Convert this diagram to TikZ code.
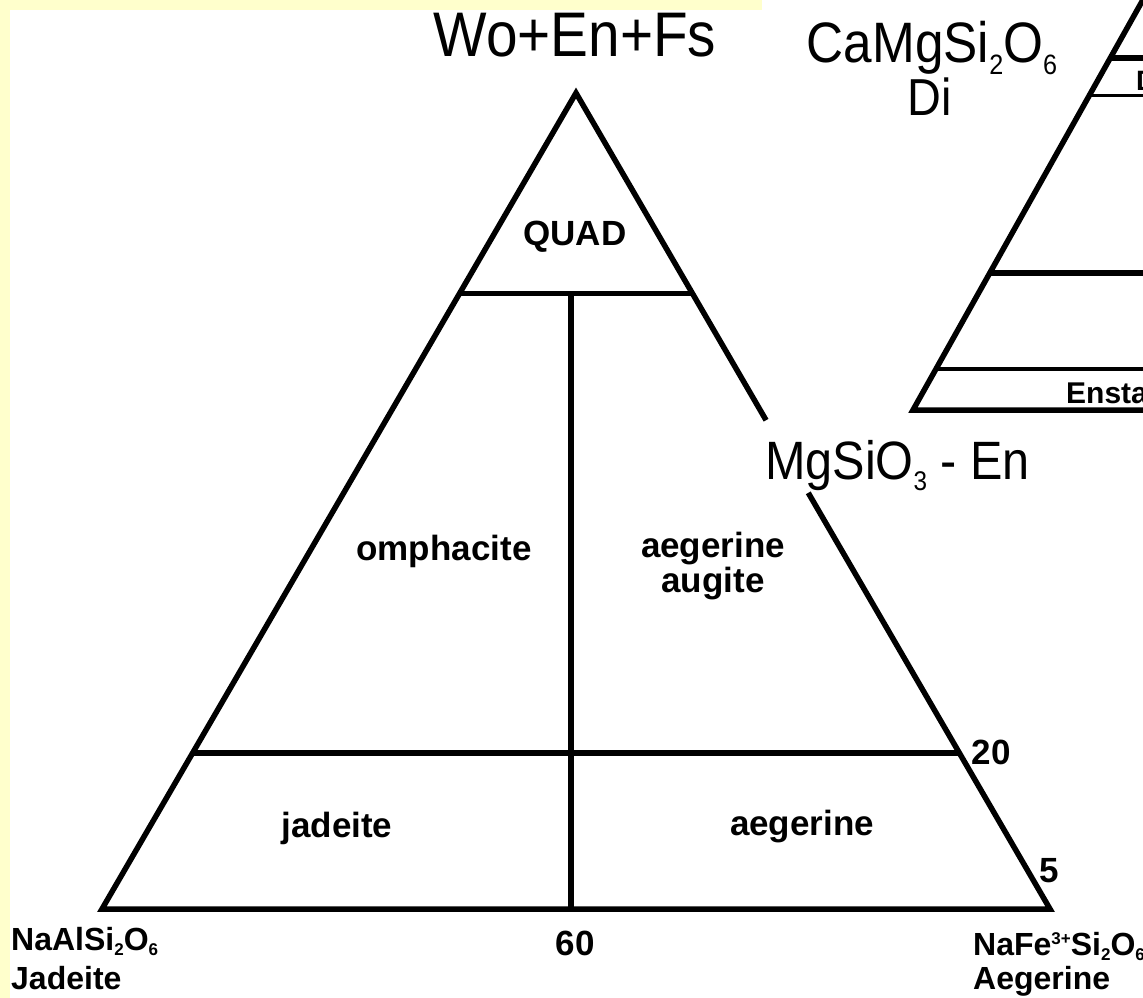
\documentclass[tikz,border=0pt]{standalone}
\usepackage{fontspec}
\setmainfont{Liberation Sans}
\newfontfamily\headfont[FakeStretch=0.9]{Liberation Sans}
\usetikzlibrary{calc}
\definecolor{paleyellow}{HTML}{FFFFCC}
% small index for the formulas: size, raise, text
\newcommand{\chemidx}[3]{\raisebox{#2}{\fontsize{#1}{#1}\selectfont #3}}
\tikzset{
  rim/.style={line width=5.5pt, line join=miter},
  head/.style={font=\headfont\fontsize{#1}{#1}\selectfont, inner sep=0pt, anchor=base},
  field/.style={font=\bfseries\fontsize{35}{35}\selectfont, inner sep=0pt, anchor=base},
  endlabel/.style={font=\bfseries\fontsize{32}{32}\selectfont, inner sep=0pt, anchor=base west},
}
\begin{document}
\begin{tikzpicture}[x=1pt,y=-1pt]
  \useasboundingbox (0,0) rectangle (1143,998);
  \clip (0,0) rectangle (1143,998);
  \fill[white] (0,0) rectangle (1143,998);
  \fill[paleyellow] (0,0) rectangle (762,10);
  \fill[paleyellow] (0,0) rectangle (10,998);

  % Wo+En+Fs -- Jd -- Ae
  \coordinate (wo) at (576,93);
  \coordinate (jd) at (102,909);
  \coordinate (ae) at (1050,909);
  \draw[rim] ($(wo)!0.401!(ae)$) -- (wo) -- (jd) -- (ae) -- ($(wo)!0.490!(ae)$);
  \draw[rim] ($(wo)!0.246!(jd)$) coordinate (q1) -- ($(wo)!0.246!(ae)$);
  \draw[rim] ($(wo)!0.809!(jd)$) -- ($(wo)!0.809!(ae)$);
  \coordinate (sixty) at (571,909);
  \draw[rim] (sixty |- q1) -- (sixty);

  \node[head=63] (title) at (575,57) {Wo+En+Fs};
  \foreach \px/\py/\txt/\nm in {575/245/QUAD/quad, 444/560/omphacite/omph, 713/557/aegerine/aegaug,
                                713/592/augite/aug, 337/837/jadeite/jad, 802/835/aegerine/aeg} {
    \node[field] (\nm) at (\px,\py) {\txt};
  }
  \foreach \px/\py/\txt in {991/764/20, 1049/882/5, 575/955/60} {
    \node[field] (n\txt) at (\px,\py) {\txt};
  }
  \node[endlabel] (jdformula) at (11,950) {NaAlSi\chemidx{17}{-5pt}{2}O\chemidx{17}{-5pt}{6}};
  \node[endlabel] (jdname) at (11,989) {Jadeite};
  \node[endlabel] (aeformula) at (973,955) {NaFe\chemidx{17}{11pt}{3+}Si\chemidx{17}{-5pt}{2}O\chemidx{17}{-5pt}{6}};
  \node[endlabel] (aename) at (973,989) {Aegerine};

  % Wo-En-Fs quadrilateral, cut by the page edge
  \coordinate (dl) at (913,410);
  \coordinate (dt) at (1154,-20);
  \draw[rim] (dt) -- (dl) -- (1160,410);
  \foreach \lev/\w [evaluate=\lev as \xl using 913+(410-\lev)*0.561] in {58/6pt, 95/3pt, 273/6pt, 369/4.5pt} {
    \draw[line width=\w] (\xl,\lev) -- (1160,\lev);
  }
  \node[head=57] (cadi) at (932,63) {CaMgSi\chemidx{28}{-12pt}{2}O\chemidx{28}{-12pt}{6}};
  \node[head=52] (di) at (930,115) {Di};
  \node[head=54, anchor=base west] (en) at (765,479) {MgSiO\chemidx{27}{-11pt}{3} - En};
  \node[font=\bfseries\fontsize{28}{28}\selectfont, inner sep=0pt, anchor=base west] (diop) at (1136,90) {Diopside};
  \node[font=\bfseries\fontsize{30}{30}\selectfont, inner sep=0pt, anchor=base west] (enst) at (1066,403) {Enstatite};
\end{tikzpicture}
\end{document}
